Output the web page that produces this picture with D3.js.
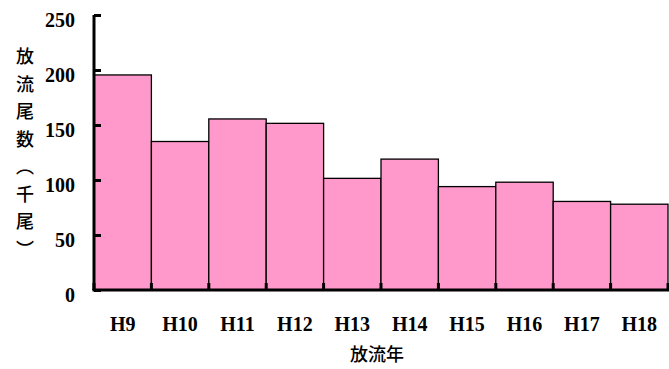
<!DOCTYPE html>
<html>
<head>
<meta charset="utf-8">
<script src="https://cdn.jsdelivr.net/npm/d3@7"></script>
<style>
  body { margin: 0; background: #fff; }
  svg { display: block; }
</style>
</head>
<body>
<svg id="chart" width="669" height="369"></svg>
<script>
// Release counts per year (thousand fish)
const years = ["H9", "H10", "H11", "H12", "H13", "H14", "H15", "H16", "H17", "H18"];
const released = [195.5, 135, 155.5, 151.5, 101.5, 119, 94, 98, 80.5, 78];
const yTicks = [0, 50, 100, 150, 200, 250];
const yTitle = ["放", "流", "尾", "数", "︵", "千", "尾", "︶"];
const xTitle = "放流年";

const svg = d3.select("#chart");
const plotLeft = 94, plotRight = 668, plotTop = 15, plotBottom = 290;
const numFont = "'Liberation Serif', 'DejaVu Serif', serif";
const cjkFont = "'Noto Sans CJK JP', sans-serif";

const x = d3.scaleBand().domain(years).range([plotLeft, plotRight]).padding(0);
const y = d3.scaleLinear().domain([0, 250]).range([plotBottom, plotTop]);

// bars
svg.append("g").selectAll("rect")
  .data(years)
  .join("rect")
  .attr("x", d => x(d))
  .attr("y", (d, i) => y(released[i]))
  .attr("width", x.bandwidth())
  .attr("height", (d, i) => plotBottom - y(released[i]))
  .attr("fill", "#FF99CC")
  .attr("stroke", "#000")
  .attr("stroke-width", 1.3);

// y axis with inward ticks
const yAxis = svg.append("g")
  .attr("transform", `translate(${plotLeft},0)`)
  .call(d3.axisLeft(y).tickValues(yTicks).tickSize(-7).tickPadding(19));
yAxis.select(".domain").attr("stroke", "#000").attr("stroke-width", 3)
  .attr("d", `M0,${plotTop}V${plotBottom}`);
yAxis.selectAll(".tick line").attr("stroke", "#000").attr("stroke-width", 3);
yAxis.selectAll(".tick text")
  .attr("font-family", numFont)
  .attr("font-weight", "bold")
  .attr("font-size", 20)
  .attr("fill", "#000")
  .attr("dy", "0.55em");

// x axis: ticks at category boundaries, labels centered
const boundaries = years.map(d => x(d)).concat([plotRight]);
const xAxisG = svg.append("g");
xAxisG.append("line")
  .attr("x1", plotLeft - 1.5).attr("x2", plotRight + 1)
  .attr("y1", plotBottom).attr("y2", plotBottom)
  .attr("stroke", "#000").attr("stroke-width", 3);
xAxisG.selectAll("line.tk")
  .data(boundaries)
  .join("line")
  .attr("class", "tk")
  .attr("x1", d => d).attr("x2", d => d)
  .attr("y1", plotBottom).attr("y2", plotBottom - 7)
  .attr("stroke", "#000").attr("stroke-width", 3);
xAxisG.selectAll("text")
  .data(years)
  .join("text")
  .attr("x", d => x(d) + x.bandwidth() / 2)
  .attr("y", 331)
  .attr("text-anchor", "middle")
  .attr("font-family", numFont)
  .attr("font-weight", "bold")
  .attr("font-size", 20)
  .text(d => d);

// axis titles
svg.append("g").selectAll("text")
  .data(yTitle)
  .join("text")
  .attr("x", 25)
  .attr("y", (d, i) => 57 + i * 27.5)
  .attr("dy", "0.35em")
  .attr("text-anchor", "middle")
  .attr("font-family", cjkFont)
  .attr("font-weight", 500)
  .attr("font-size", 18)
  .text(d => d);

svg.append("text")
  .attr("x", 377)
  .attr("y", 355)
  .attr("dy", "0.35em")
  .attr("text-anchor", "middle")
  .attr("font-family", cjkFont)
  .attr("font-weight", 500)
  .attr("font-size", 18)
  .text(xTitle);
</script>
</body>
</html>
